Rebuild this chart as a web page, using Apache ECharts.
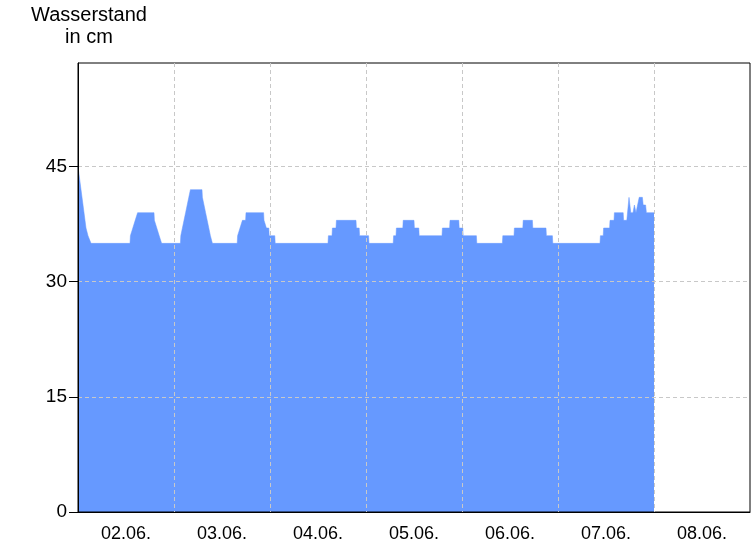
<!DOCTYPE html>
<html>
<head>
<meta charset="utf-8">
<script src="https://cdn.jsdelivr.net/npm/echarts@6/dist/echarts.min.js"></script>
<style>html,body{margin:0;padding:0;background:#fff}#c{width:756px;height:546px}</style>
</head>
<body>
<div id="c"></div>
<script>
// Hours after 02.06. 00:00 where each water level plateau starts / ends
const stepFrom = [0, 2.0, 2.5, 3.25, 13.1, 13.7, 14.3, 14.9, 19.1, 19.7, 20.3, 20.9,
  25.7, 26.1, 26.5, 26.9, 27.3, 27.7, 28.1, 31.1, 31.5, 31.9, 32.3, 32.7, 33.1, 33.6,
  39.9, 40.5, 41.1, 42.0, 46.5, 47.1, 47.8, 49.3, 62.6, 63.6, 64.6, 69.6, 70.4, 72.75,
  78.9, 79.6, 81.3, 84.1, 85.3, 91.1, 93.0, 95.3, 96.3, 99.7, 106.2, 109.1, 111.3, 113.7,
  117.1, 118.7, 130.6, 131.4, 133.0, 134.1, 136.4, 137.75, 138.2, 139.1, 139.5, 140.3,
  141.3, 142.1];
const stepTo = [0, 2.25, 3.0, 13.0, 13.6, 14.2, 14.8, 19.0, 19.6, 20.2, 20.8, 25.6,
  26.0, 26.4, 26.8, 27.2, 27.6, 28.0, 31.0, 31.4, 31.8, 32.2, 32.6, 33.0, 33.5, 39.8,
  40.4, 41.0, 41.9, 46.4, 47.0, 47.7, 49.2, 62.5, 63.5, 64.5, 69.5, 70.3, 72.65, 78.8,
  79.5, 81.2, 84.0, 85.2, 91.0, 92.9, 95.2, 96.2, 99.6, 106.1, 109.0, 111.2, 113.6, 117.0,
  118.6, 130.5, 131.3, 132.9, 134.0, 136.3, 137.2, 137.75, 138.75, 139.1, 139.6, 141.1,
  141.9, 144.0];
const stepLevel = [45, 37, 36, 35, 36, 37, 38, 39, 38, 37, 36, 35,
  36, 37, 38, 39, 40, 41, 42, 41, 40, 39, 38, 37, 36, 35,
  36, 37, 38, 39, 38, 37, 36, 35, 36, 37, 38, 37, 36, 35,
  36, 37, 38, 37, 36, 37, 38, 37, 36, 35, 36, 37, 38, 37,
  36, 35, 36, 37, 38, 39, 38, 41, 39, 40, 39, 41,
  40, 39];
const dayLabels = ['02.06.', '03.06.', '04.06.', '05.06.', '06.06.', '07.06.', '08.06.'];
const yTicks = [0, 15, 30, 45];

const points = [];
for (let i = 0; i < stepLevel.length; i++) {
  points.push([stepFrom[i], stepLevel[i]]);
  if (stepTo[i] !== stepFrom[i]) points.push([stepTo[i], stepLevel[i]]);
}

const FONT = '"Liberation Sans", Arial, sans-serif';
const chart = echarts.init(document.getElementById('c'), null, {renderer: 'canvas'});
chart.setOption({
  animation: false,
  backgroundColor: '#ffffff',
  graphic: [{
    type: 'text', x: 89, y: 4, z: 10,
    style: {text: 'Wasserstand\nin cm', textAlign: 'center', fill: '#000',
      font: '20px ' + FONT, lineHeight: 22}
  }],
  grid: {left: 78, right: 6, top: 63, bottom: 34, show: true,
    borderColor: '#000', borderWidth: 1, backgroundColor: 'transparent', z: 0},
  xAxis: [{
    type: 'value', min: 0, max: dayLabels.length * 24, interval: 24,
    axisLine: {show: true, lineStyle: {color: '#000', width: 1}},
    axisTick: {show: false}, axisLabel: {show: false},
    splitLine: {show: true, showMinLine: false, showMaxLine: false,
      lineStyle: {color: '#c8c8c8', type: [4, 3], width: 1}}
  }, {
    type: 'category', data: dayLabels, boundaryGap: true, position: 'bottom',
    axisLine: {show: false}, axisTick: {show: false}, splitLine: {show: false},
    axisLabel: {color: '#000', fontSize: 18, fontFamily: FONT, margin: 13, interval: 0}
  }],
  yAxis: {
    type: 'value', min: 0, max: 58.5, interval: 15,
    axisLine: {show: true, lineStyle: {color: '#000', width: 1}},
    axisTick: {show: true, length: 9, customValues: yTicks, lineStyle: {color: '#000'}},
    axisLabel: {color: '#000', fontSize: 19, fontFamily: FONT, margin: 11,
      customValues: yTicks},
    splitLine: {show: true, showMinLine: false,
      lineStyle: {color: '#c8c8c8', type: [4, 3], width: 1}}
  },
  series: [{
    type: 'line', xAxisIndex: 0, yAxisIndex: 0, data: points, z: -1,
    symbol: 'none', showSymbol: false,
    lineStyle: {width: 0.5, color: '#6699ff'},
    areaStyle: {color: '#6699ff', opacity: 1}
  }]
});
</script>
</body>
</html>
